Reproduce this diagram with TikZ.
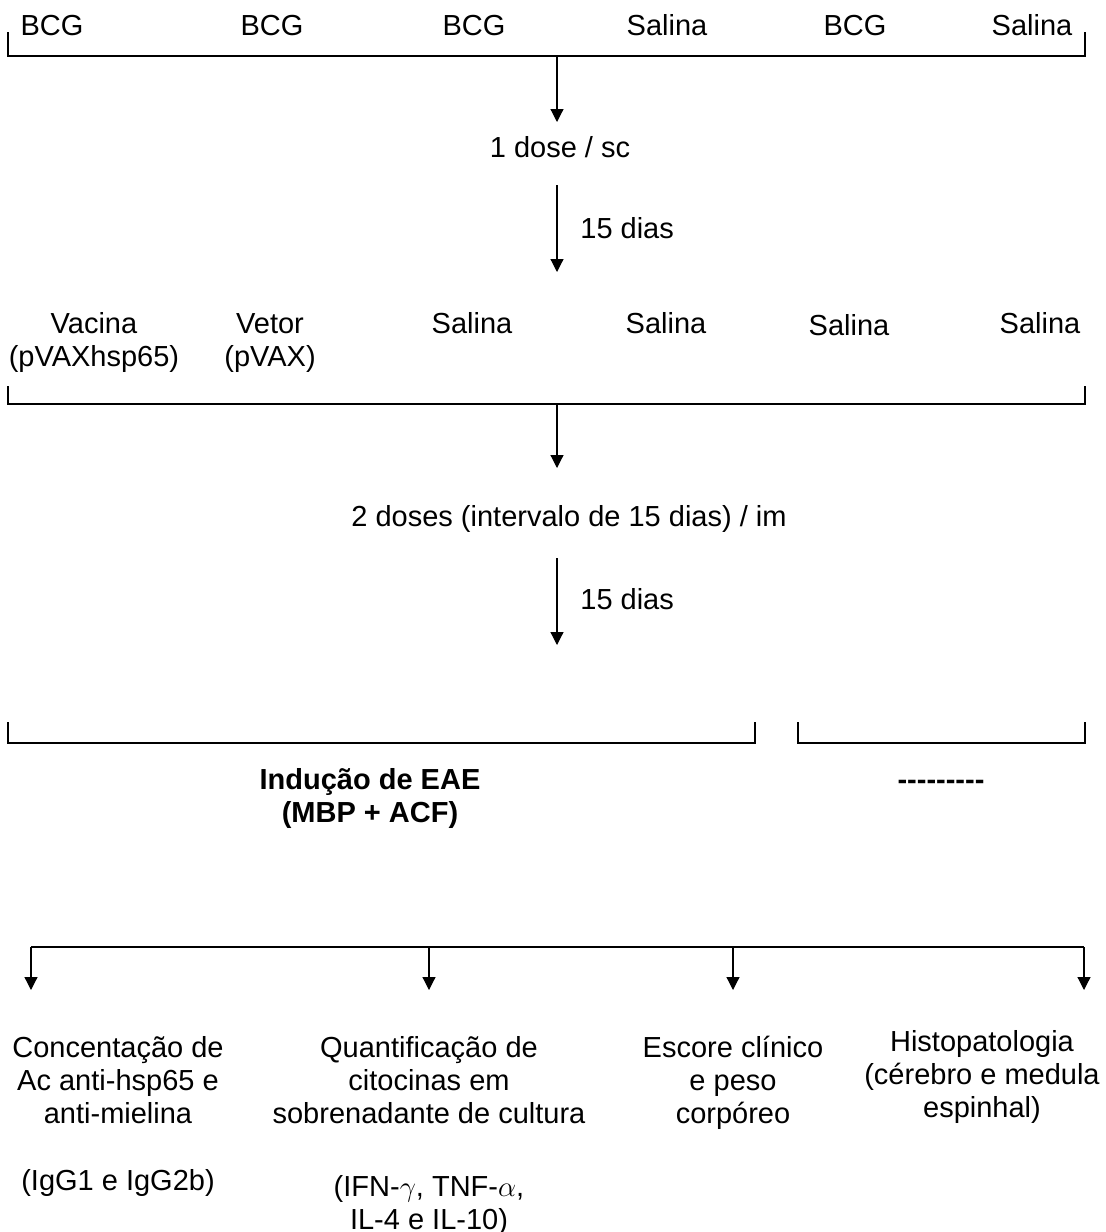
\documentclass[tikz,border=0pt]{standalone}
\usepackage{fontspec}
\setmainfont{Liberation Sans}
\usetikzlibrary{arrows.meta}
\begin{document}
\begin{tikzpicture}[x=0.5pt,y=-0.5pt,
  txt/.style={font=\fontsize{14.5}{16.5}\selectfont, inner sep=0pt, align=center, anchor=base},
  boldtxt/.style={txt, font=\fontsize{14.5}{16.5}\selectfont\bfseries},
  brk/.style={line width=0.9pt},
  arr/.style={line width=0.6pt, -{Triangle[length=6.5pt,width=6.5pt]}}]

\path[use as bounding box] (0,0) rectangle (1106,1232);

% row 1
\node[txt] (g1) at (52,35) {BCG};
\node[txt] (g2) at (272,35) {BCG};
\node[txt] (g3) at (474,35) {BCG};
\node[txt] (g4) at (667,35) {Salina};
\node[txt] (g5) at (855,35) {BCG};
\node[txt] (g6) at (1032,35) {Salina};
\draw[brk] (8,32) -- (8,56) -- (1085,56) -- (1085,32);
\coordinate (b1) at (557,56);
\coordinate (t1) at (557,122);
\draw[arr] (b1) -- (t1);
\node[txt] (dose1) at (560,157) {1 dose / sc};
\coordinate (s2) at (557,185);
\coordinate (t2) at (557,272);
\draw[arr] (s2) -- (t2);
\node[txt, anchor=base west] (dias1) at (580,238) {15 dias};

% row 2 (base anchor = last line of multi-line nodes)
\node[txt] (v1) at (94,366) {Vacina\\(pVAXhsp65)};
\node[txt] (v2) at (270,366) {Vetor\\(pVAX)};
\node[txt] (v3) at (472,333) {Salina};
\node[txt] (v4) at (666,333) {Salina};
\node[txt] (v5) at (849,335) {Salina};
\node[txt] (v6) at (1040,333) {Salina};
\draw[brk] (8,386) -- (8,404) -- (1085,404) -- (1085,386);
\coordinate (b2) at (557,404);
\coordinate (t3) at (557,468);
\draw[arr] (b2) -- (t3);
\node[txt] (dose2) at (569,526) {2 doses (intervalo de 15 dias) / im};
\coordinate (s4) at (557,558);
\coordinate (t4) at (557,645);
\draw[arr] (s4) -- (t4);
\node[txt, anchor=base west] (dias2) at (580,609) {15 dias};

% row 3
\draw[brk] (8,722) -- (8,743) -- (755,743) -- (755,722);
\draw[brk] (798,722) -- (798,743) -- (1085,743) -- (1085,722);
\node[boldtxt] (eae) at (370,822) {Indução de EAE\\(MBP + ACF)};
\node[boldtxt] (none) at (941,789) {-{}-{}-{}-{}-{}-{}-{}-{}-};

% bottom
\coordinate (h1) at (31,947);
\coordinate (h2) at (429,947);
\coordinate (h3) at (733,947);
\coordinate (h4) at (1084,947);
\coordinate (a1) at (31,990);
\coordinate (a2) at (429,990);
\coordinate (a3) at (733,990);
\coordinate (a4) at (1084,990);
\draw[brk] (h1) -- (h4);
\draw[arr] (h1) -- (a1);
\draw[arr] (h2) -- (a2);
\draw[arr] (h3) -- (a3);
\draw[arr] (h4) -- (a4);

\node[txt] (r1) at (118,1123) {Concentação de\\Ac anti-hsp65 e\\anti-mielina};
\node[txt] (r1b) at (118,1190) {(IgG1 e IgG2b)};
\node[txt] (r2) at (429,1123) {Quantificação de\\citocinas em\\sobrenadante de cultura};
\node[txt] (r2b) at (429,1229) {(IFN-$\gamma$, TNF-$\alpha$,\\IL-4 e IL-10)};
\node[txt] (r3) at (733,1123) {Escore clínico\\e peso\\corpóreo};
\node[txt] (r4) at (982,1117) {Histopatologia\\(cérebro e medula\\espinhal)};
\end{tikzpicture}
\end{document}
